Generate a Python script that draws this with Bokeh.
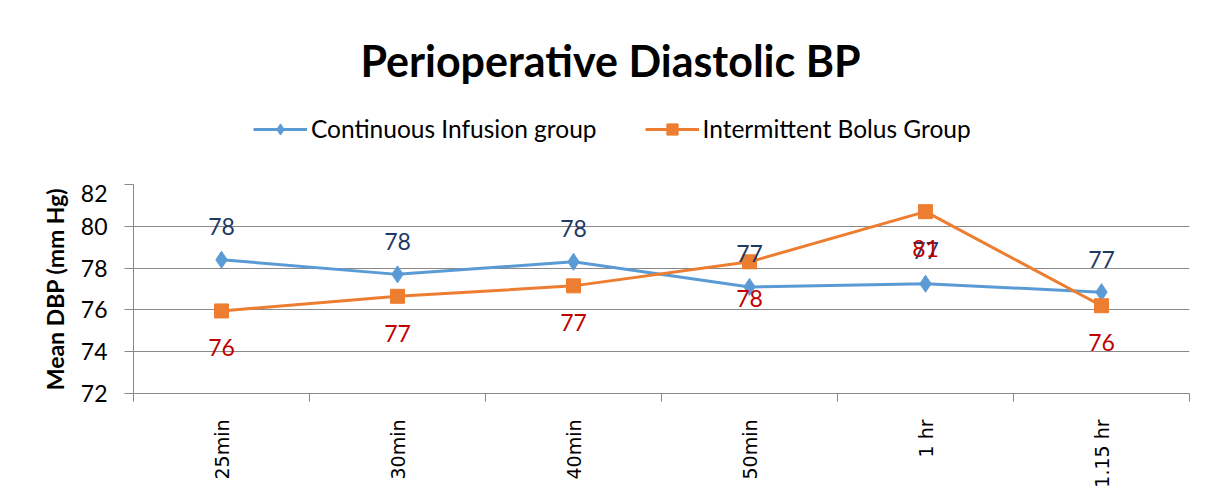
from bokeh.plotting import figure
from bokeh.layouts import column
from bokeh.models import (ColumnDataSource, FixedTicker, Legend, LegendItem,
                          LabelSet, Label, Range1d)
from bokeh.core.properties import value
from bokeh.embed import file_html
from bokeh.resources import INLINE
import math

# ---- data ----
categories = ["25min", "30min", "40min", "50min", "1 hr", "1.15 hr"]
continuous = [78.4, 77.7, 78.3, 77.1, 77.25, 76.85]
intermittent = [75.95, 76.65, 77.15, 78.3, 80.7, 76.2]
y_ticks = [72, 74, 76, 78, 80, 82]
series_names = ["Continuous Infusion group", "Intermittent Bolus Group"]
title_text = "Perioperative Diastolic BP"
y_label = "Mean DBP (mm Hg)"

BLUE = "#5B9BD5"
ORANGE = "#ED7D31"
BLUE_LBL = "#1F3864"
ORANGE_LBL = "#C00000"
GRID = "#898989"
FONT = "Lato"

xs = [i + 0.5 for i in range(len(categories))]

src = ColumnDataSource(dict(
    x=xs,
    c=continuous,
    b=intermittent,
    c_lbl=[f"{v:.0f}" for v in continuous],
    b_lbl=[f"{v:.0f}" for v in intermittent],
))

# layout (pixels)
W = 1207
TOP_H = 184          # header: title + legend
BOT_H = 308          # chart
ML, MR, MB = 133, 18, 99

# ---------------- header figure (title + legend) ----------------
hdr = figure(width=W, height=TOP_H, output_backend="svg", toolbar_location=None,
             x_range=Range1d(0, len(categories)), y_range=Range1d(0, 1),
             x_axis_type=None, y_axis_type=None, title=None,
             min_border_left=ML, min_border_right=MR, min_border_top=0, min_border_bottom=0)
hdr.outline_line_color = None

# series drawn outside the header's visible range: only their legend glyphs show
h_l1 = hdr.line("x", "c", source=src, line_color=BLUE, line_width=3)
h_m1 = hdr.scatter("x", "c", source=src, marker="diamond", size=17, fill_color=BLUE, line_color=BLUE)
h_l2 = hdr.line("x", "b", source=src, line_color=ORANGE, line_width=3)
h_m2 = hdr.scatter("x", "b", source=src, marker="square", size=14, fill_color=ORANGE, line_color=ORANGE)

legend = Legend(items=[
    LegendItem(label=series_names[0], renderers=[h_l1, h_m1]),
    LegendItem(label=series_names[1], renderers=[h_l2, h_m2]),
], orientation="horizontal", location=(253 - ML, TOP_H - 129 - 14),
    label_text_font=FONT, label_text_font_size="24.5px", label_text_color="black",
    glyph_width=54, glyph_height=28, label_height=28, spacing=48,
    border_line_color=None, background_fill_alpha=0,
    margin=0, padding=0, label_standoff=4)
hdr.add_layout(legend)

hdr.add_layout(Label(x=610 - ML, y=TOP_H - 60, x_units="screen", y_units="screen",
                     text=title_text, text_align="center", text_baseline="middle",
                     text_font=FONT, text_font_size="43px", text_font_style="bold",
                     text_color="black"))

# ---------------- chart figure ----------------
p = figure(width=W, height=BOT_H, output_backend="svg", toolbar_location=None,
           x_range=Range1d(0, len(categories)), y_range=Range1d(y_ticks[0], y_ticks[-1]),
           min_border_left=ML, min_border_right=MR, min_border_top=0,
           min_border_bottom=MB, title=None)
p.outline_line_color = None

p.line("x", "c", source=src, line_color=BLUE, line_width=3)
p.scatter("x", "c", source=src, marker="diamond", size=17, fill_color=BLUE, line_color=BLUE)
p.line("x", "b", source=src, line_color=ORANGE, line_width=3)
p.scatter("x", "b", source=src, marker="square", size=14, fill_color=ORANGE, line_color=ORANGE)

# data labels
p.add_layout(LabelSet(x="x", y="c", text="c_lbl", source=src, y_offset=33,
                      text_align="center", text_baseline="middle",
                      text_color=BLUE_LBL, text_font=value(FONT), text_font_size="23px"))
p.add_layout(LabelSet(x="x", y="b", text="b_lbl", source=src, y_offset=-37,
                      text_align="center", text_baseline="middle",
                      text_color=ORANGE_LBL, text_font=value(FONT), text_font_size="23px"))

# y axis
ya = p.yaxis[0]
ya.ticker = FixedTicker(ticks=y_ticks)
ya.axis_line_color = GRID
ya.major_tick_line_color = GRID
ya.major_tick_in = 0
ya.major_tick_out = 9
ya.minor_tick_line_color = None
ya.major_label_standoff = 17
ya.major_label_text_font = FONT
ya.major_label_text_font_size = "23px"
ya.major_label_text_color = "black"
ya.axis_label = y_label
ya.axis_label_text_font = FONT
ya.axis_label_text_font_style = "bold"
ya.axis_label_text_font_size = "23px"
ya.axis_label_text_color = "black"
ya.axis_label_standoff = 9

# x axis
xa = p.xaxis[0]
xa.ticker = FixedTicker(ticks=xs, minor_ticks=list(range(len(categories) + 1)))
xa.major_label_overrides = {x: c for x, c in zip(xs, categories)}
xa.axis_line_color = GRID
xa.major_tick_line_color = None
xa.major_tick_out = 0
xa.major_tick_in = 0
xa.minor_tick_line_color = GRID
xa.minor_tick_in = 0
xa.minor_tick_out = 8
xa.major_label_orientation = math.pi / 2
xa.major_label_standoff = 18
xa.major_label_text_font = "DejaVu Sans"
xa.major_label_text_font_size = "19px"
xa.major_label_text_color = "black"

p.xgrid.grid_line_color = None
p.ygrid.ticker = FixedTicker(ticks=y_ticks)
p.ygrid.grid_line_color = GRID
p.ygrid.grid_line_width = 1

layout = column(hdr, p, spacing=0)

open("out.html", "w").write(file_html(layout, INLINE))
